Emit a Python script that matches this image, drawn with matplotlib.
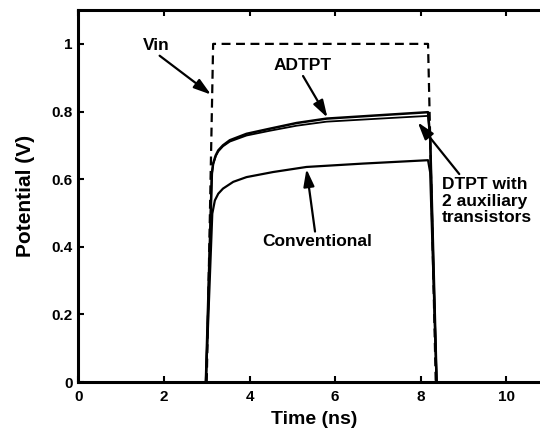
import numpy as np
import matplotlib.pyplot as plt

plt.rcParams['font.family'] = ['Liberation Sans', 'DejaVu Sans']
plt.rcParams['font.weight'] = 'bold'

t_vin = [3.0, 3.15, 8.17, 8.35]
vin = [0.0, 1.0, 1.0, 0.0]

t_adtpt = [2.98, 3.12, 3.15, 3.21, 3.27, 3.38, 3.54, 3.93, 4.47, 5.1, 5.8, 7.04, 8.17, 8.22, 8.37]
adtpt = [0.0, 0.616, 0.646, 0.670, 0.685, 0.700, 0.715, 0.734, 0.749, 0.766, 0.779, 0.789, 0.798, 0.72, 0.0]

t_dtpt = [2.98, 3.12, 3.15, 3.21, 3.27, 3.38, 3.54, 3.93, 4.47, 5.1, 5.8, 7.04, 8.17, 8.22, 8.37]
dtpt = [0.0, 0.615, 0.644, 0.668, 0.682, 0.697, 0.711, 0.729, 0.743, 0.758, 0.770, 0.779, 0.787, 0.72, 0.0]

t_conv = [2.98, 3.13, 3.19, 3.27, 3.38, 3.62, 3.93, 4.55, 5.33, 6.65, 8.17, 8.22, 8.37]
conv = [0.0, 0.498, 0.537, 0.557, 0.572, 0.592, 0.606, 0.621, 0.636, 0.646, 0.656, 0.62, 0.0]

fig = plt.figure(figsize=(5.4, 4.32), dpi=100)
ax = fig.add_axes([0.145, 0.1157, 0.872, 0.861])

ax.plot(t_vin, vin, color='black', lw=1.6, ls=(0, (4, 2.5)))
ax.plot(t_adtpt, adtpt, color='black', lw=1.8)
ax.plot(t_dtpt, dtpt, color='black', lw=1.3)
ax.plot(t_conv, conv, color='black', lw=1.6)

ax.set_xlim(0, 11)
ax.set_ylim(0, 1.1)
ax.set_xticks([0, 2, 4, 6, 8, 10])
ax.set_xticklabels(['0', '2', '4', '6', '8', '10'])
ax.set_yticks([0, 0.2, 0.4, 0.6, 0.8, 1.0])
ax.set_yticklabels(['0', '0.2', '0.4', '0.6', '0.8', '1'])
ax.tick_params(direction='in', length=4, width=1.5, top=True, labelsize=11)
ax.tick_params(axis='x', pad=6)
ax.tick_params(axis='y', pad=4)
for s in ax.spines.values():
    s.set_linewidth(2.2)

ax.set_xlabel('Time (ns)', fontsize=14, fontweight='bold', labelpad=5)
ax.set_ylabel('Potential (V)', fontsize=15, fontweight='bold', labelpad=12)

arrow = dict(arrowstyle='-|>,head_length=0.8,head_width=0.25', color='black', lw=1.6,
             mutation_scale=13, shrinkA=0, shrinkB=0)
ax.annotate('', xy=(3.1, 0.85), xytext=(1.9, 0.965), arrowprops=arrow)
ax.text(1.83, 0.995, 'Vin', ha='center', va='center', fontsize=12.5, fontweight='bold')

ax.annotate('', xy=(5.82, 0.782), xytext=(5.25, 0.905), arrowprops=arrow)
ax.text(5.24, 0.936, 'ADTPT', ha='center', va='center', fontsize=12.5, fontweight='bold')

ax.annotate('', xy=(7.93, 0.768), xytext=(8.9, 0.615), arrowprops=arrow)
ax.text(8.5, 0.535, 'DTPT with\n2 auxiliary\ntransistors', ha='left', va='center',
        fontsize=12.5, fontweight='bold', linespacing=1.12)

ax.annotate('', xy=(5.33, 0.63), xytext=(5.53, 0.445), arrowprops=arrow)
ax.text(5.57, 0.416, 'Conventional', ha='center', va='center', fontsize=12.5, fontweight='bold')

plt.savefig('out.png', dpi=100)
